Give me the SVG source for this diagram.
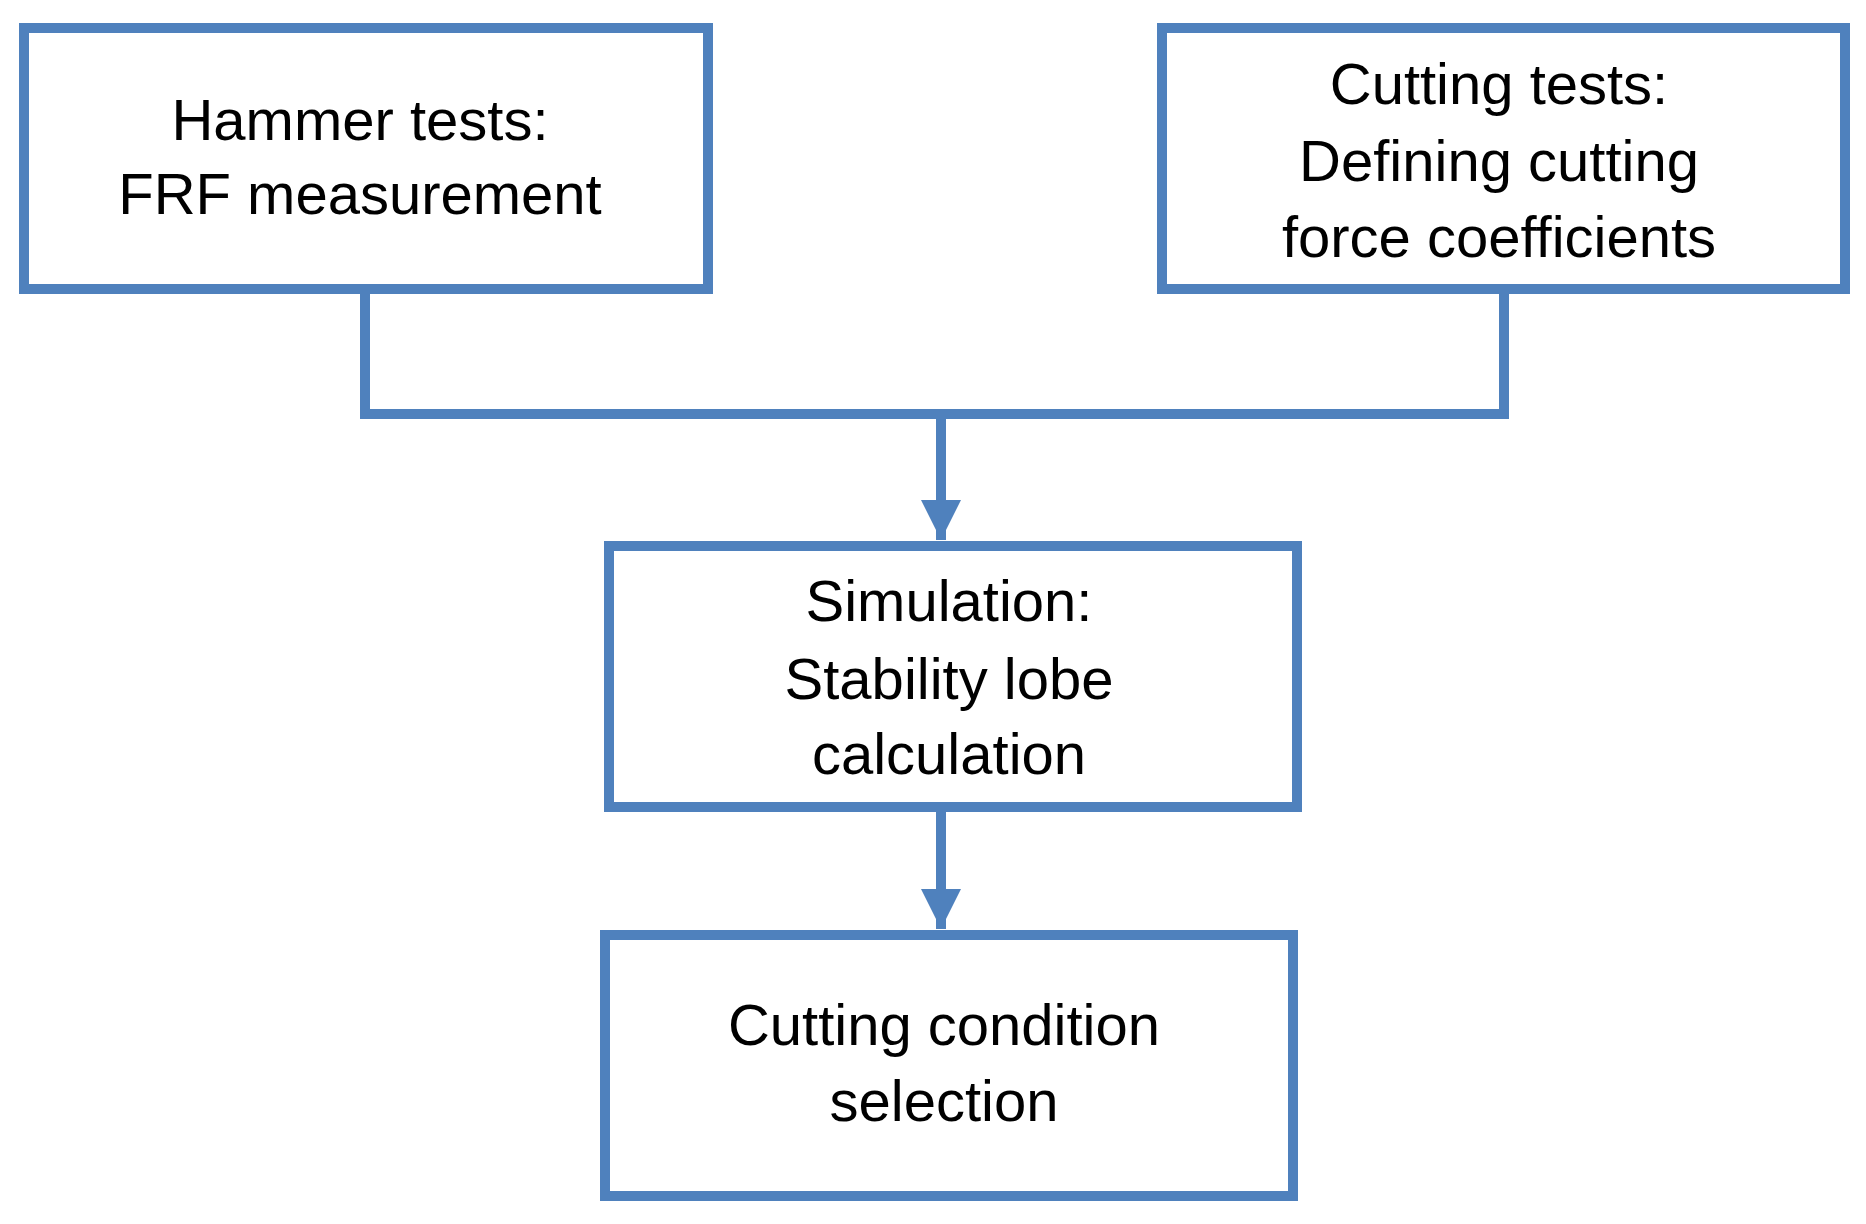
<svg xmlns="http://www.w3.org/2000/svg" width="1866" height="1224" viewBox="0 0 1866 1224">
<defs>
<style>
.box{fill:#fff;stroke:#4f81bd;stroke-width:10}
.ln{fill:none;stroke:#4f81bd;stroke-width:10}
text{font-family:"Liberation Sans",Arial,sans-serif;font-size:58px;fill:#000;text-anchor:middle}
</style>
<marker id="ah" viewBox="0 0 10 10" refX="10" refY="5" markerWidth="4" markerHeight="4" markerUnits="strokeWidth" orient="auto"><path d="M0,0L10,5L0,10z" fill="#4f81bd"/></marker>
</defs>
<rect width="1866" height="1224" fill="#fff"/>
<g id="connectors">
<path class="ln" d="M365,289V414H1504V289"/>
<path class="ln" d="M941,414V540" marker-end="url(#ah)"/>
<path class="ln" d="M941,807V929" marker-end="url(#ah)"/>
</g>
<g id="n1"><rect class="box" x="24" y="28" width="684" height="261"/>
<text x="360" y="140">Hammer  tests:</text><text x="360" y="214">FRF measurement</text></g>
<g id="n2"><rect class="box" x="1162" y="28" width="683" height="261"/>
<text x="1499" y="104">Cutting tests:</text><text x="1499" y="181">Defining cutting</text><text x="1499" y="257">force coefficients</text></g>
<g id="n3"><rect class="box" x="609" y="546" width="688" height="261"/>
<text x="949" y="621">Simulation:</text><text x="949" y="699">Stability lobe</text><text x="949" y="774">calculation</text></g>
<g id="n4"><rect class="box" x="605" y="935" width="688" height="261"/>
<text x="944" y="1045">Cutting condition</text><text x="944" y="1121">selection</text></g>
</svg>
